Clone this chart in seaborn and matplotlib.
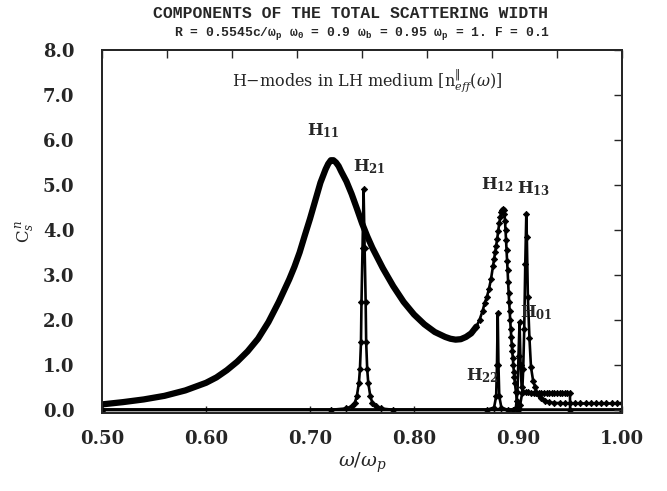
import numpy as np
import pandas as pd
import matplotlib
matplotlib.use("Agg")
import matplotlib.pyplot as plt
import seaborn as sns

# ---- datos (omega/omega_p, C_s^n) ------------------------------------------
h11_w = [0.50, 0.52, 0.54, 0.56, 0.58, 0.60, 0.61, 0.62, 0.63, 0.64, 0.65,
         0.66, 0.67, 0.68, 0.685, 0.69, 0.695, 0.70, 0.705, 0.71, 0.715,
         0.7175, 0.72, 0.7225, 0.725, 0.7275, 0.73, 0.735, 0.74, 0.745,
         0.75, 0.755, 0.76, 0.77, 0.78, 0.79, 0.80, 0.81, 0.82, 0.83,
         0.835, 0.84, 0.845, 0.85, 0.855, 0.86]
h11_c = [0.12, 0.17, 0.23, 0.31, 0.43, 0.60, 0.72, 0.88, 1.07, 1.30, 1.58,
         1.95, 2.40, 2.90, 3.18, 3.50, 3.88, 4.25, 4.65, 5.05, 5.35,
         5.47, 5.55, 5.55, 5.50, 5.42, 5.30, 5.08, 4.80, 4.48,
         4.15, 3.86, 3.60, 3.15, 2.75, 2.40, 2.12, 1.90, 1.73, 1.62,
         1.58, 1.56, 1.57, 1.62, 1.70, 1.85]

h12_w = [0.860, 0.863, 0.866, 0.868, 0.870, 0.872, 0.874, 0.876, 0.877,
         0.878, 0.879, 0.880, 0.881, 0.882, 0.883, 0.884, 0.885, 0.886,
         0.8865, 0.887, 0.8875, 0.888, 0.8885, 0.889, 0.8895, 0.890, 0.8905,
         0.891, 0.8915, 0.892, 0.8925, 0.893, 0.8935, 0.894, 0.8945, 0.895,
         0.8955, 0.896, 0.8965, 0.897, 0.898, 0.899, 0.900, 0.901]
h12_c = [1.85, 2.00, 2.20, 2.38, 2.50, 2.68, 2.90, 3.20, 3.35,
         3.50, 3.65, 3.80, 3.98, 4.15, 4.28, 4.40, 4.45, 4.47,
         4.44, 4.35, 4.20, 4.00, 3.78, 3.55, 3.32, 3.10, 2.85,
         2.60, 2.40, 2.20, 2.00, 1.80, 1.62, 1.45, 1.30, 1.15,
         1.00, 0.85, 0.72, 0.60, 0.40, 0.20, 0.07, 0.02]

h21_w = [0.50, 0.72, 0.735, 0.740, 0.743, 0.745, 0.747, 0.748, 0.749, 0.7495,
         0.7505, 0.7515, 0.7525, 0.7535, 0.754, 0.755, 0.756, 0.758, 0.760,
         0.763, 0.768, 0.78, 1.00]
h21_c = [0.0, 0.0, 0.03, 0.08, 0.15, 0.30, 0.60, 0.90, 1.50, 2.40,
         3.60, 4.90, 3.60, 2.40, 1.50, 0.90, 0.60, 0.30, 0.15,
         0.08, 0.03, 0.0, 0.0]

h22_w = [0.50, 0.87, 0.877, 0.879, 0.8798, 0.8805, 0.8812, 0.882, 0.884, 0.89, 1.00]
h22_c = [0.0, 0.0, 0.05, 0.30, 1.00, 2.15, 1.00, 0.30, 0.05, 0.0, 0.0]

h01_w = [0.50, 0.895, 0.898, 0.8995, 0.9005, 0.9015, 0.9025, 0.9035, 0.905,
         0.9075, 0.910, 0.9125, 0.915, 0.9175, 0.920, 0.9225, 0.925, 0.9275,
         0.930, 0.9325, 0.935, 0.9375, 0.940, 0.9425, 0.945, 0.9475, 0.950,
         0.9501, 1.00]
h01_c = [0.0, 0.0, 0.05, 0.40, 1.20, 1.95, 1.00, 0.50, 0.40,
         0.39, 0.39, 0.38, 0.38, 0.38, 0.38, 0.38, 0.38, 0.37,
         0.37, 0.37, 0.37, 0.37, 0.37, 0.37, 0.37, 0.37, 0.37,
         0.0, 0.0]

h13_w = [0.50, 0.900, 0.902, 0.904, 0.905, 0.906, 0.907, 0.908, 0.9085,
         0.9095, 0.911, 0.9125, 0.9145, 0.9165, 0.919, 0.922, 0.926, 0.930,
         0.935, 0.94, 0.945, 0.95, 0.955, 0.96, 0.965, 0.97, 0.975, 0.98,
         0.985, 0.99, 0.995, 1.00]
h13_c = [0.0, 0.0, 0.10, 0.37, 0.90, 1.80, 3.25, 4.35, 3.85,
         2.50, 1.60, 0.95, 0.65, 0.50, 0.35, 0.26, 0.20, 0.17,
         0.15, 0.15, 0.14, 0.14, 0.14, 0.14, 0.14, 0.14, 0.14, 0.14,
         0.14, 0.14, 0.14, 0.14]

etiquetas = {r"$\mathbf{H_{11}}$": (0.713, 6.0), r"$\mathbf{H_{21}}$": (0.757, 5.2),
             r"$\mathbf{H_{12}}$": (0.880, 4.8), r"$\mathbf{H_{13}}$": (0.915, 4.7),
             r"$\mathbf{H_{01}}$": (0.918, 1.95), r"$\mathbf{H_{22}}$": (0.866, 0.55)}

def marco(w, c):
    return pd.DataFrame({"w": w, "c": c})

sns.set_theme(style="ticks")
plt.rcParams["font.family"] = ["DejaVu Serif"]
plt.rcParams["mathtext.fontset"] = "dejavuserif"

fig = plt.figure(figsize=(6.67, 4.91), dpi=100)
ax = fig.add_axes([0.153, 0.159, 0.7795, 0.739])

# curva ancha (sin marcadores)
sns.lineplot(data=marco(h11_w, h11_c), x="w", y="c", ax=ax, color="black",
             lw=4.5, sort=False, estimator=None,
             solid_joinstyle="round", solid_capstyle="round")
# curvas con marcadores
for w, c in [(h21_w, h21_c), (h22_w, h22_c), (h01_w, h01_c),
             (h12_w, h12_c), (h13_w, h13_c)]:
    sns.lineplot(data=marco(w, c), x="w", y="c", ax=ax, color="black",
                 lw=1.9, marker="D", markersize=3.2, markeredgewidth=0.6,
                 markeredgecolor="black", markerfacecolor="black",
                 sort=False, estimator=None)

for txt, (x, y) in etiquetas.items():
    ax.text(x, y, txt, ha="center", va="bottom", fontsize=12)

ax.set_xlim(0.5, 1.0)
ax.set_ylim(-0.07, 8.0)
ax.set_xticks(np.arange(0.5, 1.0001, 0.1))
ax.set_xticklabels([f"{v:.2f}" for v in np.arange(0.5, 1.0001, 0.1)],
                   fontsize=13, weight="bold")
ax.set_yticks(np.arange(0, 8.01, 1.0))
ax.set_yticklabels([f"{v:.1f}" for v in np.arange(0, 8.01, 1.0)],
                   fontsize=13, weight="bold")
ax.tick_params(axis="x", direction="in", length=5, width=1, pad=12)
ax.tick_params(axis="y", direction="in", length=0, pad=20, right=True)
for s in ax.spines.values():
    s.set_linewidth(1.3)
    s.set_visible(True)

# marcas a la derecha y arriba
ax2 = ax.twinx()
ax2.set_ylim(ax.get_ylim())
ax2.set_yticks(np.arange(0, 8.01, 1.0))
ax2.tick_params(axis="y", direction="in", length=6, width=1, labelright=False)
ax3 = ax.twiny()
ax3.set_xlim(ax.get_xlim())
ax3.set_xticks(np.linspace(0.5, 1.0, 9))
ax3.tick_params(axis="x", direction="in", length=6, width=1, labeltop=False)

ax.set_xlabel(r"$\omega/\omega_p$", fontsize=14, labelpad=2)
ax.set_ylabel(r"C$_s^{\,n}$", fontsize=12, labelpad=4)

ax.text(0.51, 0.915, r"H$-$modes in LH medium [n$^{\|}_{eff}$($\omega$)]",
        transform=ax.transAxes, ha="center", va="center", fontsize=11.5)

fig.text(0.525, 0.972, "COMPONENTS OF THE TOTAL SCATTERING WIDTH",
         ha="center", va="center", fontsize=11.8, weight="bold",
         family="Liberation Mono")
fig.text(0.543, 0.932,
         r"R = 0.5545c/$\mathregular{\omega_p}$ $\mathregular{\omega_0}$ = 0.9 "
         r"$\mathregular{\omega_b}$ = 0.95 $\mathregular{\omega_p}$ = 1. F = 0.1",
         ha="center", va="center", fontsize=9.4, weight="bold",
         family="Liberation Mono")

fig.savefig("out.png", dpi=100)
